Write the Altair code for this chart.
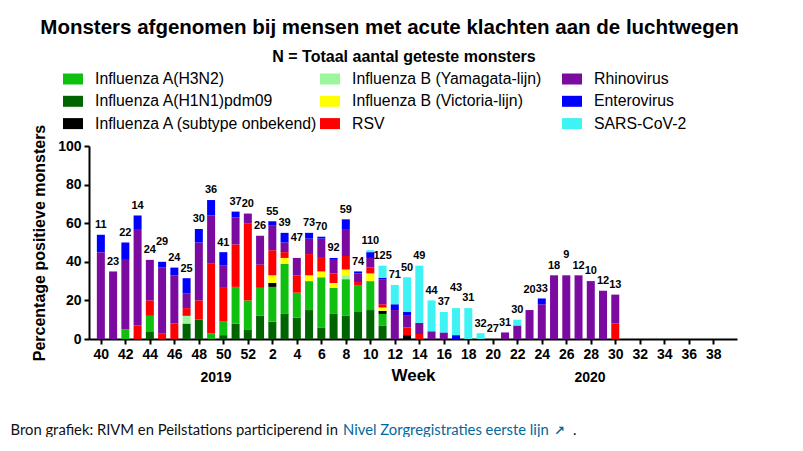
import json
import altair as alt
import pandas as pd

# ---------------- data ----------------
week_labels = [40, 41, 42, 43, 44, 45, 46, 47, 48, 49, 50, 51, 52,
               1, 2, 3, 4, 5, 6, 7, 8, 9, 10, 11, 12, 13, 14, 15, 16, 17, 18, 19, 20,
               21, 22, 23, 24, 25, 26, 27, 28, 29, 30]

h1n1 = [0, 0, 0, 0, 4, 0, 0, 8, 10, 0, 2, 8, 5, 12, 9, 13, 11, 15, 6, 13, 12, 14, 15, 7,
        0, 0, 0, 0, 0, 0, 0, 0, 0, 0, 0, 0, 0, 0, 0, 0, 0, 0, 0]
h3n2 = [0, 0, 5, 0, 8, 0, 0, 0, 0, 3, 7, 19, 15, 14.5, 18, 26, 13, 15, 26, 13.5, 19, 14, 15, 6,
        0, 0, 0, 0, 0, 0, 0, 0, 0, 0, 0, 0, 0, 0, 0, 0, 0, 0, 0]
a_onb = [0, 0, 0, 0, 0, 0, 0, 0, 0, 0, 0, 0, 0, 0, 2, 0, 0, 0, 0, 0, 0, 0, 0, 1.6,
         0, 2, 0, 0, 0, 0, 0, 0, 0, 0, 0, 0, 0, 0, 0, 0, 0, 0, 0]
yamagata = [0, 0, 0, 0, 0, 0, 0, 4, 0, 0, 0, 0, 0, 0, 0, 0, 0, 0, 0, 0, 2, 0, 0, 0,
            0, 0, 0, 0, 0, 0, 0, 0, 0, 0, 0, 0, 0, 0, 0, 0, 0, 0, 0]
victoria = [0, 0, 0, 0, 0, 0, 0, 0, 0, 0, 0, 0, 0, 0, 4, 3, 0, 3, 3, 2.5, 3, 0, 4, 1.7,
            0, 0, 0, 0, 0, 0, 0, 0, 0, 0, 0, 0, 0, 0, 0, 0, 0, 0, 0]
rsv = [0, 0, 0, 7, 8, 3, 8, 4, 10, 36, 17.5, 22, 40, 12, 13, 3, 9, 11, 7.5, 5, 7, 1.5, 3, 1.7,
       0, 4, 2.6, 0, 0, 0, 0, 0, 0, 0, 0, 0, 0, 0, 0, 0, 0, 0, 8]
rhino = [45, 35, 36, 50, 21, 34, 25, 7.5, 30, 25, 11.5, 14, 5, 15, 13, 5, 9, 8, 9.5, 7, 14, 4.5, 5, 13,
         15, 6.4, 5.8, 4, 3.4, 0, 0, 0, 0, 3.4, 7, 15, 18, 33, 33, 33, 30, 25, 15]
entero = [9, 0, 9, 7, 0, 3, 4, 8, 7, 8, 7, 3, 0, 0, 2, 5, 0, 3, 1, 1, 5, 1, 3, 0.6,
          3, 1.6, 0, 0, 0, 2, 0, 0, 0, 0, 0, 0, 3, 0, 0, 0, 0, 0, 0]
sars = [0, 0, 0, 0, 0, 0, 0, 0, 0, 0, 0, 0, 0, 0, 0, 0, 0, 0, 0, 0, 0, 0, 1, 6.4,
        10, 18, 29.6, 16, 10.6, 14, 16, 3, 0, 0, 3, 0, 0, 0, 0, 0, 0, 0, 0]

n_tested = [11, 23, 22, 14, 24, 29, 24, 25, 30, 36, 41, 37, 20, 26, 55, 39, 47, 73, 70, 92,
            59, 74, 110, 125, 71, 50, 49, 44, 37, 43, 31, 32, 27, 31, 30, 20, 33, 18, 9, 12,
            10, 12, 13]

# stacking order bottom -> top
series_names = ["Influenza A(H1N1)pdm09", "Influenza A(H3N2)", "Influenza A (subtype onbekend)",
                "Influenza B (Yamagata-lijn)", "Influenza B (Victoria-lijn)", "RSV",
                "Rhinovirus", "Enterovirus", "SARS-CoV-2"]
series_values = [h1n1, h3n2, a_onb, yamagata, victoria, rsv, rhino, entero, sars]
series_colors = {
    "Influenza A(H3N2)": "#10c010",
    "Influenza A(H1N1)pdm09": "#006400",
    "Influenza A (subtype onbekend)": "#000000",
    "Influenza B (Yamagata-lijn)": "#9cf79c",
    "Influenza B (Victoria-lijn)": "#ffff00",
    "RSV": "#ff0000",
    "Rhinovirus": "#7a0aa0",
    "Enterovirus": "#0000ff",
    "SARS-CoV-2": "#3ff3f5",
}
legend_columns = [
    ["Influenza A(H3N2)", "Influenza A(H1N1)pdm09", "Influenza A (subtype onbekend)"],
    ["Influenza B (Yamagata-lijn)", "Influenza B (Victoria-lijn)", "RSV"],
    ["Rhinovirus", "Enterovirus", "SARS-CoV-2"],
]

tick_labels = ["40", "42", "44", "46", "48", "50", "52", "2", "4", "6", "8", "10", "12",
               "14", "16", "18", "20", "22", "24", "26", "28", "30", "32", "34", "36", "38"]
year_labels = ["2019", "2020"]

title_text = "Monsters afgenomen bij mensen met acute klachten aan de luchtwegen"
subtitle_text = "N = Totaal aantal geteste monsters"
source_prefix = "Bron grafiek: RIVM en Peilstations participerend in"
source_link = "Nivel Zorgregistraties eerste lijn"

# ---------------- tables ----------------
rows = []
for s_i, (name, vals) in enumerate(zip(series_names, series_values)):
    for i, v in enumerate(vals):
        rows.append({"idx": i, "week": week_labels[i], "series": name, "value": v, "order": s_i})
df = pd.DataFrame(rows)

totals = [sum(vals[i] for vals in series_values) for i in range(len(week_labels))]
raised_weeks = [45, 4, 17, 23, 26]  # labels lifted higher to avoid crowding (layout)
lab = pd.DataFrame({
    "idx": list(range(len(week_labels))),
    "n": [str(v) for v in n_tested],
    "label_y": [t + 5 + (5.5 if w in raised_weeks else 0) for t, w in zip(totals, week_labels)],
})

FONT = "Liberation Sans"

x_axis = alt.Axis(values=list(range(0, 51, 2)),
                  labelExpr=json.dumps(tick_labels) + "[round(datum.value / 2)]",
                  title="Week", titleFontSize=17, titlePadding=6,
                  labelFontSize=14, labelPadding=3, labelOverlap=False, labelFlush=False)
y_axis = alt.Axis(values=[0, 20, 40, 60, 80, 100], title="Percentage positieve monsters",
                  titleFontSize=16, titlePadding=10, labelFontSize=14, labelPadding=3)
x_scale = alt.Scale(domain=[-0.56, 51.53], nice=False, zero=False)
y_scale = alt.Scale(domain=[0, 100], nice=False)

base = alt.Chart(df).transform_window(
    cum="sum(value)", sort=[alt.SortField("order", order="ascending")],
    groupby=["idx"], frame=[None, 0]
).transform_calculate(start="datum.cum - datum.value").transform_filter("datum.value > 0")

legend_x = [-26, 231, 473]
bar_layers = []
for names, lx in zip(legend_columns, legend_x):
    bar_layers.append(
        base.transform_filter(alt.FieldOneOfPredicate(field="series", oneOf=names))
        .mark_bar(size=8)
        .encode(
            x=alt.X("idx:Q", scale=x_scale, axis=x_axis),
            y=alt.Y("cum:Q", scale=y_scale, axis=y_axis),
            y2="start:Q",
            color=alt.Color("series:N",
                            scale=alt.Scale(domain=names, range=[series_colors[n] for n in names]),
                            legend=alt.Legend(orient="none", legendX=lx, legendY=-77, title=None,
                                              direction="vertical",
                                              symbolType="M-1,-0.55H1V0.55H-1Z", symbolSize=400,
                                              symbolStrokeWidth=0, symbolOpacity=1,
                                              labelFont=FONT, labelFontSize=15.8, labelColor="black",
                                              labelOffset=12, rowPadding=4.3, padding=0,
                                              labelLimit=400)),
        )
    )

labels = alt.Chart(lab).mark_text(font=FONT, fontSize=11, fontWeight="bold", color="black",
                                   baseline="middle").encode(
    x=alt.X("idx:Q", scale=x_scale, axis=x_axis),
    y=alt.Y("label_y:Q", scale=y_scale, axis=y_axis),
    text="n:N",
)


def fixed_text(txt, x, y, **kw):
    return alt.Chart(pd.DataFrame({"t": [txt]})).mark_text(**kw).encode(
        text="t:N", x=alt.value(x), y=alt.value(y))


years = [
    fixed_text(year_labels[0], 127, 232, font=FONT, fontSize=14, fontWeight="bold", color="black"),
    fixed_text(year_labels[1], 501, 232, font=FONT, fontSize=14, fontWeight="bold", color="black"),
]
title = fixed_text(title_text, 300.5, -118, font=FONT, fontSize=20.5, fontWeight="bold", color="black")
subtitle = fixed_text(subtitle_text, 315, -89, font=FONT, fontSize=16, fontWeight="bold", color="black")

FOOT = "Lato"
LINK = "#01689b"
footer = [
    fixed_text(source_prefix, -78.5, 285, font=FOOT, fontSize=14.8, color="#111111", align="left"),
    fixed_text(source_link, 254, 285, font=FOOT, fontSize=14.8, color=LINK, align="left"),
    fixed_text("\u2197", 465, 285, font="DejaVu Sans", fontSize=13, fontWeight="bold", color=LINK, align="left"),
    fixed_text(".", 484, 285, font=FOOT, fontSize=14.8, color="#111111", align="left"),
    alt.Chart(pd.DataFrame({"t": [0]})).mark_rule(color=LINK, strokeWidth=1).encode(
        x=alt.value(254), x2=alt.value(461), y=alt.value(294)),
    alt.Chart(pd.DataFrame({"t": [0]})).mark_rule(color="#111111", strokeWidth=2, strokeDash=[2, 1.5]).encode(
        x=alt.value(10), x2=alt.value(45), y=alt.value(296)),
]

chart = alt.layer(*bar_layers, labels, *years, title, subtitle, *footer).resolve_scale(
    color="independent"
).properties(
    width=648, height=193,
    autosize=alt.AutoSizeParams(type="none"),
    padding={"left": 81, "top": 138, "right": 58, "bottom": 98},
).configure_view(stroke=None).configure_axis(
    domainColor="black", domainWidth=2, tickColor="black", tickWidth=2, tickSize=5,
    labelFont=FONT, labelFontWeight="bold", labelColor="black",
    titleFont=FONT, titleFontWeight="bold", titleColor="black", grid=False,
)

chart.save("out.html", embed_options={"renderer": "svg", "actions": False})
